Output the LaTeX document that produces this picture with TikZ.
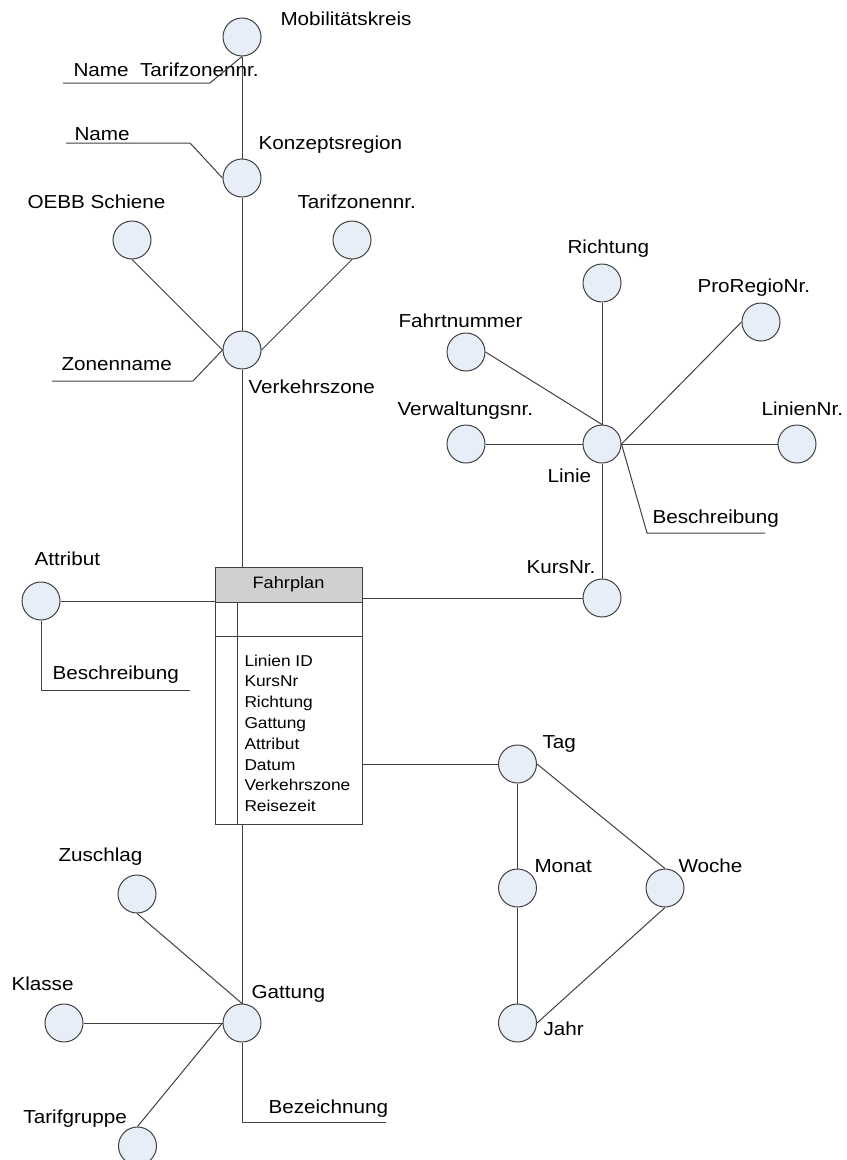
\documentclass[tikz,border=0pt]{standalone}
\usepackage{fontspec}
\setmainfont{Liberation Sans}[FakeStretch=1.1]

\definecolor{entfill}{HTML}{E8EEF7}
\definecolor{linegray}{HTML}{404040}
\definecolor{headgray}{HTML}{D0D0D0}

\begin{document}
\begin{tikzpicture}[x=0.75pt,y=-0.75pt,line width=0.75pt,
attr/.style={draw=linegray,circle,fill=entfill,minimum size=28.5pt,inner sep=0pt},
lbl/.style={anchor=base west,inner sep=0pt,font=\fontsize{14.1}{16}\selectfont},
field/.style={anchor=base west,inner sep=0pt,font=\fontsize{11.8}{14}\selectfont},
conn/.style={draw=linegray}]
\useasboundingbox (0,0) rectangle (846,1160);
\clip (0,0) rectangle (846,1160);

% Verkehrszone branch
\node[attr] (mobil) at (242,37) {};
\node[lbl] (mobilL) at (280,26) {Mobilitätskreis};
\node[lbl] (nameTzL) at (73,76) {Name\ \ Tarifzonennr.};
\node[attr] (konzept) at (242,178) {};
\node[lbl] (konzeptL) at (258,149) {Konzeptsregion};
\node[lbl] (nameL) at (74,140) {Name};
\node[attr] (oebb) at (132,240) {};
\node[lbl] (oebbL) at (27,208) {OEBB Schiene};
\node[attr] (tzone) at (352,240) {};
\node[lbl] (tzoneL) at (297,208) {Tarifzonennr.};
\node[attr] (verkehr) at (242,350) {};
\node[lbl] (verkehrL) at (248,393) {Verkehrszone};
\node[lbl] (zoneL) at (61,370) {Zonenname};

\coordinate (nameTzEnd) at (63,83);
\coordinate (nameTzKnick) at (210,83);
\coordinate (nameEnd) at (66,143);
\coordinate (nameKnick) at (190,143);
\coordinate (zoneEnd) at (52,381);
\coordinate (zoneKnick) at (193,381);

% Linie branch
\node[attr] (richtung) at (602,283) {};
\node[lbl] (richtungL) at (567,253) {Richtung};
\node[attr] (proregio) at (761,322) {};
\node[lbl] (proregioL) at (697,292) {ProRegioNr.};
\node[attr] (fahrt) at (466,352) {};
\node[lbl] (fahrtL) at (398,327) {Fahrtnummer};
\node[attr] (verw) at (466,444) {};
\node[lbl] (verwL) at (397,415) {Verwaltungsnr.};
\node[attr] (linie) at (602,444) {};
\node[lbl] (linieL) at (547,482) {Linie};
\node[attr] (liniennr) at (797,444) {};
\node[lbl] (liniennrL) at (761,415) {LinienNr.};
\node[lbl] (beschrL) at (652,523) {Beschreibung};
\node[attr] (kurs) at (602,598) {};
\node[lbl] (kursL) at (526,573) {KursNr.};

\coordinate (beschrKnick) at (647,533);
\coordinate (beschrEnd) at (765,533);

% Attribut
\node[attr] (attribut) at (41,601) {};
\node[lbl] (attributL) at (34,565) {Attribut};
\node[lbl] (beschrAL) at (52,679) {Beschreibung};
\coordinate (beschrAEnd) at (190,690);

% Fahrplan table
\node[draw=linegray,fill=headgray,minimum width=110.25pt,minimum height=26.25pt,inner sep=0pt,
  font=\fontsize{12.4}{14}\selectfont] (fahrplan) at (288.5,584.5) {Fahrplan};
\node[draw=linegray,minimum width=110.25pt,minimum height=166.5pt,inner sep=0pt] (body) at (288.5,713) {};
\draw[conn] (body.west |- 0,636) -- (body.east |- 0,636);
\draw[conn] (237,602) -- (237,824);
\foreach \t [count=\i] in {Linien ID,KursNr,Richtung,Gattung,Attribut,Datum,Verkehrszone,Reisezeit}
  \node[field] (field\i) at (244,645.2+20.8*\i) {\t};

% Datum
\node[attr] (tag) at (517.5,764) {};
\node[lbl] (tagL) at (542,748) {Tag};
\node[attr] (monat) at (517.5,888) {};
\node[lbl] (monatL) at (534,872) {Monat};
\node[attr] (woche) at (665,888) {};
\node[lbl] (wocheL) at (678,872) {Woche};
\node[attr] (jahr) at (517.5,1023) {};
\node[lbl] (jahrL) at (543,1035) {Jahr};

% Gattung branch
\node[attr] (gattung) at (242,1023) {};
\node[lbl] (gattungL) at (251,998) {Gattung};
\node[attr] (zuschlag) at (137,894) {};
\node[lbl] (zuschlagL) at (58,861) {Zuschlag};
\node[attr] (klasse) at (64,1023) {};
\node[lbl] (klasseL) at (11,990) {Klasse};
\node[attr] (tarif) at (137.5,1146) {};
\node[lbl] (tarifL) at (23,1123) {Tarifgruppe};
\node[lbl] (bezL) at (268,1113) {Bezeichnung};
\coordinate (bezEnd) at (386,1122);

% connectors
\draw[conn] (mobil.south) -- (konzept.north);
\draw[conn] (konzept.south) -- (verkehr.north);
\draw[conn] (verkehr.south) -- (verkehr.south |- fahrplan.north);
\draw[conn] (nameTzEnd) -- (nameTzKnick) -- (mobil.south);
\draw[conn] (nameEnd) -- (nameKnick) -- (konzept.west);
\draw[conn] (zoneEnd) -- (zoneKnick) -- (verkehr.west);
\draw[conn] (oebb.south) -- (verkehr.west);
\draw[conn] (tzone.south) -- (verkehr.east);

\draw[conn] (richtung.south) -- (linie.north);
\draw[conn] (fahrt.east) -- (linie.north);
\draw[conn] (proregio.west) -- (linie.east);
\draw[conn] (verw.east) -- (linie.west);
\draw[conn] (linie.east) -- (liniennr.west);
\draw[conn] (linie.east) -- (beschrKnick) -- (beschrEnd);
\draw[conn] (linie.south) -- (kurs.north);
\draw[conn] (kurs.west) -- (kurs.west -| fahrplan.east);

\draw[conn] (attribut.east) -- (attribut.east -| fahrplan.west);
\draw[conn] (attribut.south) |- (beschrAEnd);

\draw[conn] (tag.west) -- (tag.west -| body.east);
\draw[conn] (tag.south) -- (monat.north);
\draw[conn] (monat.south) -- (jahr.north);
\draw[conn] (tag.east) -- (woche.north);
\draw[conn] (woche.south) -- (jahr.east);

\draw[conn] (gattung.north) -- (gattung.north |- body.south);
\draw[conn] (zuschlag.south) -- (gattung.north);
\draw[conn] (klasse.east) -- (gattung.west);
\draw[conn] (tarif.north) -- (gattung.west);
\draw[conn] (gattung.south) |- (bezEnd);
\end{tikzpicture}
\end{document}
